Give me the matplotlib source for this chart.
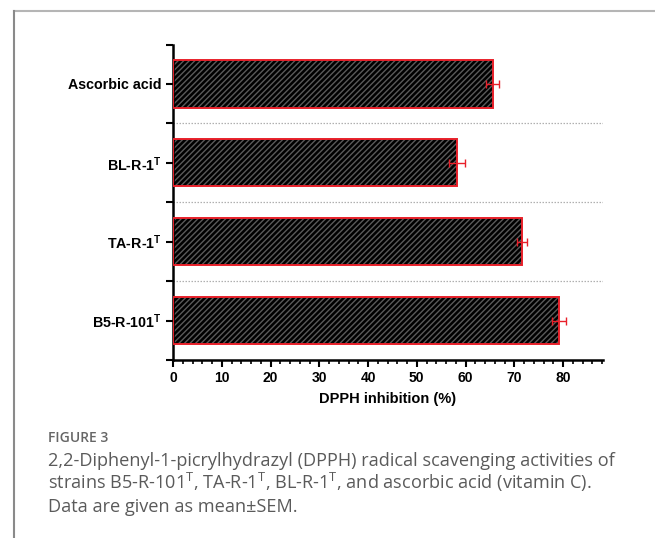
import matplotlib
matplotlib.use("Agg")
import matplotlib.pyplot as plt
from matplotlib.ticker import MultipleLocator, FixedLocator
from matplotlib.lines import Line2D

plt.rcParams['font.family'] = ['Liberation Sans', 'DejaVu Sans']
plt.rcParams['mathtext.fontset'] = 'custom'
plt.rcParams['mathtext.rm'] = 'Liberation Sans:bold'
plt.rcParams['mathtext.it'] = 'Open Sans'

# Data (bottom to top)
categories = ["B5-R-101$^{\\mathrm{T}}$", "TA-R-1$^{\\mathrm{T}}$", "BL-R-1$^{\\mathrm{T}}$", "Ascorbic acid"]
values = [79.2, 71.6, 58.3, 65.6]
errors = [1.4, 1.1, 1.6, 1.3]
xticks = [0, 10, 20, 30, 40, 50, 60, 70, 80]

fig = plt.figure(figsize=(6.55, 5.38), dpi=100)
ax = fig.add_axes([173/655, 1-360/538, (603-173)/655, (360-44.5)/538])

ypos = list(range(len(categories)))
ax.barh(ypos, values, height=0.6, color='black', edgecolor='#5a5a5a',
        linewidth=0, hatch='//////', zorder=2)
ax.barh(ypos, values, height=0.6, fill=False, edgecolor='#e8202a',
        linewidth=1.4, zorder=3)
ax.errorbar(values, ypos, xerr=errors, fmt='none', ecolor='#e8202a',
            elinewidth=1.0, capsize=3, capthick=1.0, zorder=4)

ax.set_xlim(0, 88.2)
ax.set_ylim(-0.5, 3.5)
ax.set_yticks(ypos)
ax.set_yticklabels(categories, fontsize=10.3, fontweight='bold')
ax.yaxis.set_minor_locator(FixedLocator([-0.5, 0.5, 1.5, 2.5, 3.5]))
ax.set_xticks(xticks)
ax.set_xticklabels([str(t) for t in xticks], fontsize=10, fontweight='bold')
ax.xaxis.set_minor_locator(MultipleLocator(2))

for s in ['top', 'right']:
    ax.spines[s].set_visible(False)
for s in ['left', 'bottom']:
    ax.spines[s].set_linewidth(1.8)
    ax.spines[s].set_color('black')

ax.tick_params(axis='x', which='major', length=5, width=1.5, pad=3)
ax.tick_params(axis='x', which='minor', length=3, width=1.2)
ax.tick_params(axis='y', which='major', length=5, width=1.5, pad=3)
ax.tick_params(axis='y', which='minor', length=5, width=1.5)

for yy in [0.5, 1.5, 2.5]:
    ax.axhline(yy, color='#b0b0b0', linewidth=0.9, linestyle=(0, (1.2, 1.2)), zorder=1)

ax.set_xlabel("DPPH inhibition (%)", fontsize=10.5, fontweight='bold', labelpad=5)

# Outer frame (top and left borders)
fig.add_artist(Line2D([13.5/655, 1], [1-11/538, 1-11/538], transform=fig.transFigure,
                      color='#b5b5b5', linewidth=1.5))
fig.add_artist(Line2D([13.5/655, 13.5/655], [0, 1-11/538], transform=fig.transFigure,
                      color='#8a8a8a', linewidth=1.5))

# Caption
fig.text(48/655, 1-441.5/538, "FIGURE 3", fontsize=10, color='#666666',
         family=['Open Sans', 'DejaVu Sans'], va='baseline', fontweight='semibold')
caption_lines = ["2,2-Diphenyl-1-picrylhydrazyl (DPPH) radical scavenging activities of",
                 "strains B5-R-101$^{\\mathit{T}}$, TA-R-1$^{\\mathit{T}}$, BL-R-1$^{\\mathit{T}}$, and ascorbic acid (vitamin C).",
                 "Data are given as mean\u00b1SEM."]
baselines = [465.5, 488.8, 511.5]
for line, b in zip(caption_lines, baselines):
    fig.text(48/655, 1-b/538, line, fontsize=13.1, color='#5a5a5a',
             family=['Open Sans', 'DejaVu Sans'], va='baseline')

fig.savefig("out.png", dpi=100)
